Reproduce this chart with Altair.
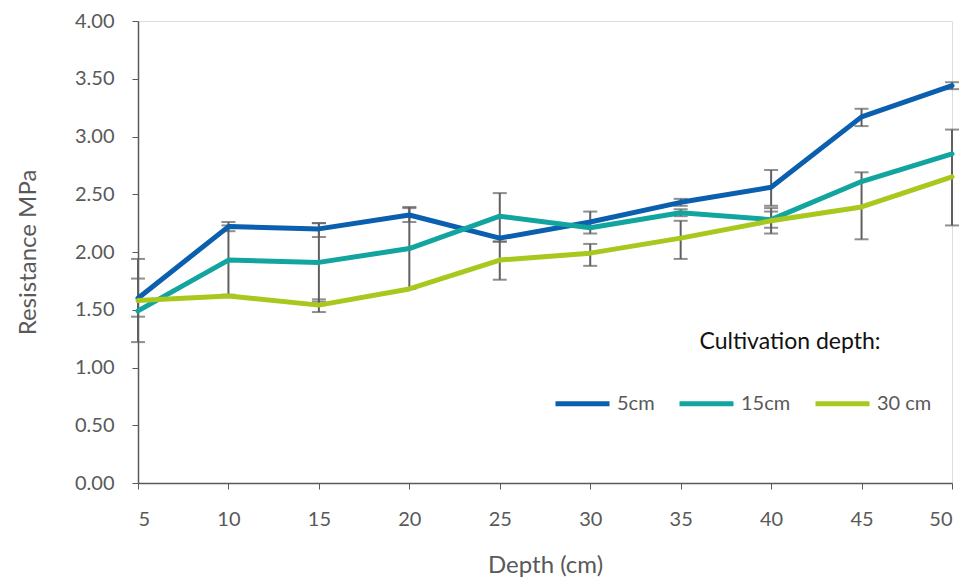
import altair as alt
import pandas as pd

depths = [5, 10, 15, 20, 25, 30, 35, 40, 45, 50]
series_names = ["5cm", "15cm", "30 cm"]
colors = ["#0A5FAE", "#12A5A0", "#A8C81E"]
legend_title = ["Cultivation depth:"]

vals_5 = [1.60, 2.22, 2.20, 2.32, 2.12, 2.26, 2.43, 2.56, 3.17, 3.44]
vals_15 = [1.49, 1.93, 1.91, 2.03, 2.31, 2.21, 2.34, 2.28, 2.61, 2.85]
vals_30 = [1.58, 1.62, 1.54, 1.68, 1.93, 1.99, 2.12, 2.27, 2.39, 2.65]

# error bar limits (None = no visible bar)
hi_5 = [1.77, 2.26, 2.25, 2.39, None, 2.35, 2.46, 2.71, 3.24, 3.47]
lo_5 = [1.44, 2.18, 2.13, 2.26, None, 2.16, 2.40, 2.40, 3.09, 3.41]
hi_15 = [None, 2.23, 2.25, 2.38, 2.51, None, 2.37, 2.35, None, None]
lo_15 = [None, 1.63, 1.57, 1.68, 2.09, None, 2.31, 2.21, None, None]
hi_30 = [1.94, None, 1.59, None, 2.09, 2.07, 2.27, 2.38, 2.69, 3.06]
lo_30 = [1.22, None, 1.48, None, 1.76, 1.88, 1.94, 2.16, 2.11, 2.23]

rows = []
err_rows = []
for name, v, hi, lo in [("5cm", vals_5, hi_5, lo_5),
                        ("15cm", vals_15, hi_15, lo_15),
                        ("30 cm", vals_30, hi_30, lo_30)]:
    for d, val, h, l in zip(depths, v, hi, lo):
        rows.append({"depth": d, "value": val, "series": name})
        if h is not None:
            err_rows.append({"depth": d, "hi": h, "lo": l, "series": name})

df = pd.DataFrame(rows)
err = pd.DataFrame(err_rows)
title_df = pd.DataFrame({"t": legend_title})

FONT = "Lato"
GREY = "#595959"

x_enc = alt.X("depth:Q",
              scale=alt.Scale(domain=[5, 50], nice=False, zero=False),
              axis=alt.Axis(values=depths, title="Depth (cm)", grid=False,
                            labelFontSize=20, titleFontSize=24,
                            labelColor=GREY, titleColor=GREY,
                            domainColor=GREY, tickColor=GREY,
                            domainWidth=1.5, tickSize=6, labelPadding=20,
                            titlePadding=24, labelFont=FONT,
                            titleFont=FONT, titleFontWeight="normal"))
y_scale = alt.Scale(domain=[0, 4], nice=False)
y_axis = alt.Axis(values=[0, 0.5, 1, 1.5, 2, 2.5, 3, 3.5, 4], format=".2f",
                  title="Resistance MPa", grid=False,
                  labelFontSize=20, titleFontSize=24,
                  labelColor=GREY, titleColor=GREY,
                  domainColor=GREY, tickColor=GREY,
                  domainWidth=1.5, tickSize=6, labelPadding=18,
                  titlePadding=34, labelFont=FONT,
                  titleFont=FONT, titleFontWeight="normal")

color_enc = alt.Color("series:N",
                      scale=alt.Scale(domain=series_names, range=colors),
                      legend=alt.Legend(title=None,
                                        orient="none", legendX=415, legendY=353,
                                        direction="horizontal",
                                        symbolType="stroke", symbolSize=2916,
                                        symbolStrokeWidth=5,
                                        labelFontSize=20, labelColor=GREY,
                                        labelFont=FONT,
                                        columnPadding=14, labelOffset=5))

rules = alt.Chart(err).mark_rule(color="#606060", strokeWidth=2).encode(
    x=x_enc, y=alt.Y("lo:Q", scale=y_scale, axis=y_axis), y2="hi:Q")
caps_hi = alt.Chart(err).mark_tick(color="#606060", thickness=2, size=14,
                                   orient="horizontal").encode(
    x="depth:Q", y=alt.Y("hi:Q", scale=y_scale))
caps_lo = alt.Chart(err).mark_tick(color="#606060", thickness=2, size=14,
                                   orient="horizontal").encode(
    x="depth:Q", y=alt.Y("lo:Q", scale=y_scale))

lines = alt.Chart(df).mark_line(strokeWidth=5, strokeJoin="round",
                                strokeCap="round").encode(
    x=x_enc,
    y=alt.Y("value:Q", scale=y_scale, axis=y_axis),
    color=color_enc,
    order="depth:Q")

title_txt = alt.Chart(title_df).mark_text(font=FONT, fontSize=23,
                                          color="#111111", align="center",
                                          baseline="middle").encode(
    text="t:N", x=alt.value(652), y=alt.value(321))

chart = alt.layer(rules, caps_hi, caps_lo, lines, title_txt).properties(
    width=814, height=462,
    autosize=alt.AutoSizeParams(type="none"),
    padding={"left": 130, "top": 13, "right": 9, "bottom": 99},
).configure_view(stroke=None).configure(background="white")

chart.save("out.html", embed_options={"renderer": "svg", "actions": False})
